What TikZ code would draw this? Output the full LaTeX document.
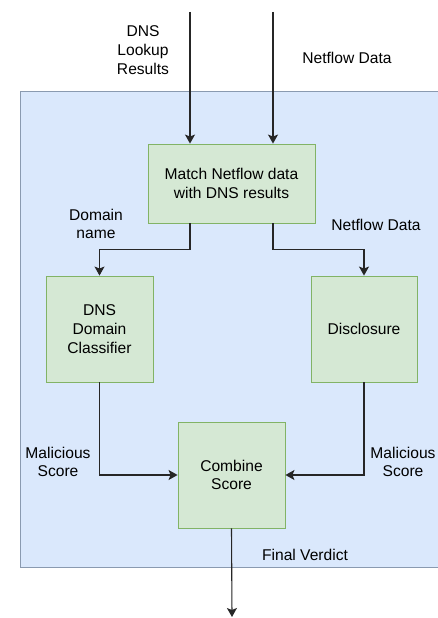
\documentclass[tikz,border=0pt]{standalone}
\usepackage{fontspec}
\setmainfont{Liberation Sans}
\usetikzlibrary{arrows.meta}
\begin{document}
\begin{tikzpicture}[x=1pt,y=-1pt,
  box/.style={draw=boxline,fill=boxfill,line width=0.9pt,align=center,inner sep=0pt,font=\fontsize{15.6}{18.8}\selectfont},
  lbl/.style={align=center,inner sep=0pt,font=\fontsize{15.6}{18.8}\selectfont},
  arr/.style={draw=black!85,line width=1.1pt,-{Stealth[length=9pt,width=10pt,inset=2pt]}},
  ln/.style={draw=black!85,line width=1.1pt}]
\definecolor{boxfill}{HTML}{D5E8D4}
\definecolor{boxline}{HTML}{82B366}
\definecolor{contfill}{HTML}{DAE8FC}
\definecolor{contline}{HTML}{8A9AB0}
\useasboundingbox (0,0) rectangle (437,618);
\fill[white] (0,0) rectangle (437,618);
\draw[draw=contline,fill=contfill,line width=0.9pt] (20,91) rectangle (450,567);
\node[box,minimum width=167pt,minimum height=79pt] (match) at (231.5,183.5) {Match Netflow data\\with DNS results};
\node[box,minimum width=107pt,minimum height=106pt] (dns) at (99.5,329) {DNS\\Domain\\Classifier};
\node[box,minimum width=106pt,minimum height=106pt] (disc) at (364,329) {Disclosure};
\node[box,minimum width=107pt,minimum height=106pt] (comb) at (231.5,475) {Combine\\Score};
\coordinate (in1) at (190,12);
\coordinate (in2) at (273,12);
\coordinate (out) at (232,617);
\draw[arr] (in1) -- (match.north -| in1);
\draw[arr] (in2) -- (match.north -| in2);
\draw[arr] (match.south -| in1) -- ++(0,26) -| (dns.north);
\draw[arr] (match.south -| in2) -- ++(0,26) -| (disc.north);
\draw[arr] (dns.south) |- (comb.west);
\draw[arr] (disc.south) |- (comb.east);
\draw[arr] (comb.south) -- (out);
\node[lbl] (l1) at (143,50) {DNS\\Lookup\\Results};
\node[lbl] (l2) at (347,58) {Netflow Data};
\node[lbl] (l3) at (96,224) {Domain\\name};
\node[lbl] (l4) at (376,225) {Netflow Data};
\node[lbl] (l5) at (58,462) {Malicious\\Score};
\node[lbl] (l6) at (403,462) {Malicious\\Score};
\node[lbl] (l7) at (305,555) {Final Verdict};
\end{tikzpicture}
\end{document}
